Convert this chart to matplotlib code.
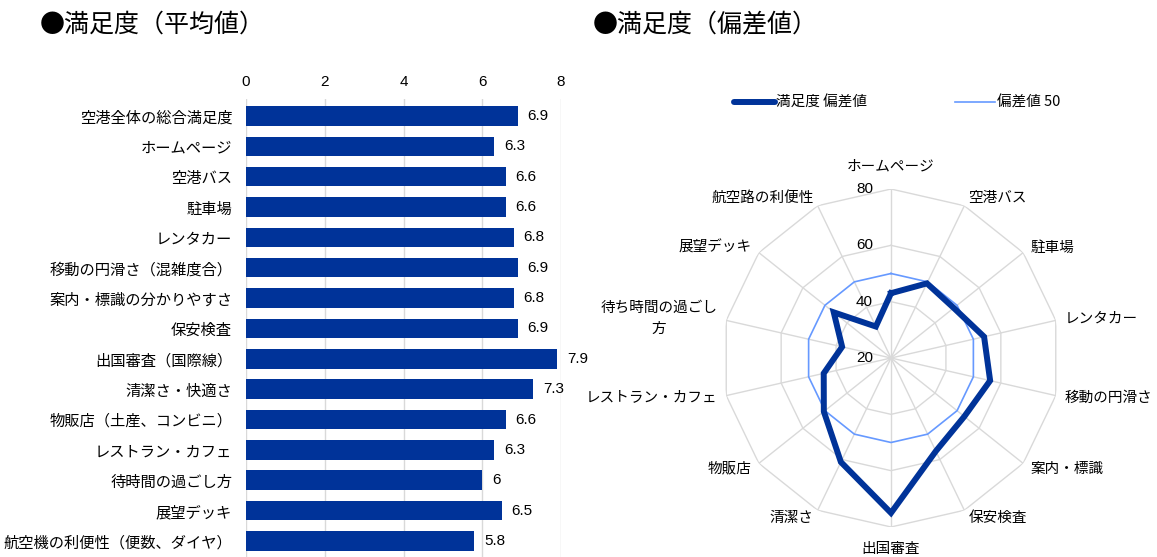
import numpy as np
import matplotlib
matplotlib.use("Agg")
import matplotlib.pyplot as plt
from matplotlib.lines import Line2D

plt.rcParams['font.family'] = ['Noto Sans CJK JP', 'DejaVu Sans']

# ── data ──────────────────────────────────────────────────────────────────────
bar_labels = ["空港全体の総合満足度", "ホームページ", "空港バス", "駐車場", "レンタカー",
              "移動の円滑さ（混雑度合）", "案内・標識の分かりやすさ", "保安検査",
              "出国審査（国際線）", "清潔さ・快適さ", "物販店（土産、コンビニ）",
              "レストラン・カフェ", "待時間の過ごし方", "展望デッキ",
              "航空機の利便性（便数、ダイヤ）"]
bar_values = [6.9, 6.3, 6.6, 6.6, 6.8, 6.9, 6.8, 6.9, 7.9, 7.3, 6.6, 6.3, 6.0, 6.5, 5.8]
bar_ticks = [0, 2, 4, 6, 8]

radar_labels = ["ホームページ", "空港バス", "駐車場", "レンタカー", "移動の円滑さ",
                "案内・標識", "保安検査", "出国審査", "清潔さ", "物販店",
                "レストラン・カフェ", "待ち時間の過ごし\n方", "展望デッキ", "航空路の利便性"]
radar_values = [43.0, 49.4, 48.5, 53.9, 56.1, 53.3, 56.7, 75.0, 61.0, 50.5,
                44.5, 37.8, 46.0, 32.4]
radar_base = [50] * len(radar_labels)
radar_rings = [40, 60, 80]
radar_ticks = [20, 40, 60, 80]

DARK = "#003399"
LIGHT = "#6699FF"
GRID = "#D9D9D9"
NUM = ['Liberation Sans', 'Noto Sans CJK JP']

W, H = 1157, 557
fig = plt.figure(figsize=(W / 100, H / 100), dpi=100)

fig.text(40 / W, 1 - 25 / H, "●満足度（平均値）", fontsize=18, va="center")
fig.text(593 / W, 1 - 25 / H, "●満足度（偏差値）", fontsize=18, va="center")

# ── left: horizontal bars ─────────────────────────────────────────────────────
ax = fig.add_axes([246 / W, 0, 315 / W, (H - 99) / H])
y = np.arange(len(bar_labels))
bars = ax.barh(y, bar_values, height=0.64, color=DARK, zorder=2)
ax.bar_label(bars, labels=[f"{v:g}" for v in bar_values], padding=7,
             fontsize=11, family=NUM)
ax.set_xlim(0, 8)
ax.set_ylim(14.53, -0.56)
ax.set_xticks(bar_ticks)
ax.set_xticklabels([str(t) for t in bar_ticks], family=NUM)
ax.xaxis.tick_top()
ax.set_yticks(y)
ax.set_yticklabels(bar_labels)
ax.tick_params(axis="x", length=0, pad=7, labelsize=11)
ax.tick_params(axis="y", length=0, pad=10, labelsize=11)
ax.grid(axis="x", color=GRID, lw=1, zorder=0)
for s in ax.spines.values():
    s.set_visible(False)

# ── right: radar ──────────────────────────────────────────────────────────────
n = len(radar_labels)
theta = np.arange(n) * 2 * np.pi / n
closed = np.append(theta, theta[0])

rax = fig.add_axes([722 / W, 30 / H, 338 / W, 338 / H], projection="polar")
rax.set_theta_zero_location("N")
rax.set_theta_direction(-1)
rax.set_ylim(20, 80)
rax.grid(False)
rax.set_xticks([])
rax.set_yticks([])
rax.spines["polar"].set_visible(False)
rax.patch.set_visible(False)

for lvl in radar_rings:
    rax.plot(closed, [lvl] * (n + 1), color=GRID, lw=1, zorder=1)
for t in theta:
    rax.plot([t, t], [20, 80], color=GRID, lw=1, zorder=1)

rax.plot(closed, radar_base + radar_base[:1], color=LIGHT, lw=1.2, zorder=3)
rax.plot(closed, radar_values + radar_values[:1], color=DARK, lw=4.3,
         solid_joinstyle="miter", zorder=4)

for lvl in radar_ticks:
    rax.annotate(str(lvl), xy=(0, lvl), xytext=(-13, 0), textcoords="offset points",
                 ha="right", va="center", fontsize=11, family=NUM)

for t, lab in zip(theta, radar_labels):
    s, c = np.sin(t), np.cos(t)
    if abs(s) < 0.1:
        off = (0, 16 if c > 0 else -16)
        ha = "center"
    else:
        off = (6.5 * s, 6 * c)
        ha = "left" if s > 0 else "right"
    rax.annotate(lab, xy=(t, 80), xytext=off, textcoords="offset points",
                 ha=ha, va="center", fontsize=10.5, multialignment="center",
                 linespacing=1.6, annotation_clip=False)

handles = [Line2D([], [], color=DARK, lw=4.3, solid_capstyle="round"),
           Line2D([], [], color=LIGHT, lw=1.2)]
fig.legend(handles, ["満足度 偏差値", "偏差値 50"], loc="center",
           bbox_to_anchor=(897 / W, 1 - 103 / H), ncol=2, frameon=False,
           fontsize=10.5, handlelength=2.8, handletextpad=0.1, columnspacing=6.0)

fig.savefig("out.png", dpi=100)
